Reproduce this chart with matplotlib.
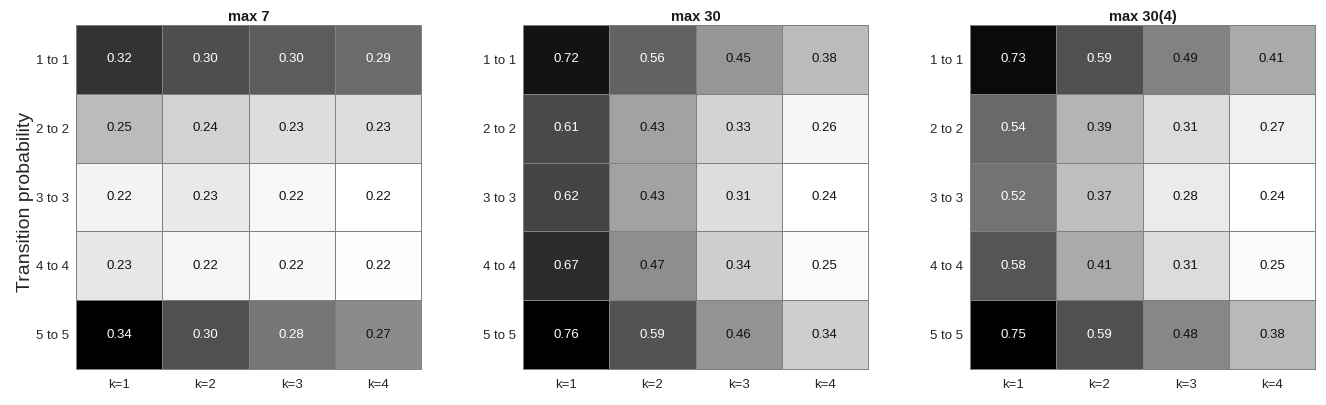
import numpy as np
import matplotlib
matplotlib.use("Agg")
import matplotlib.pyplot as plt
from matplotlib.colors import Normalize

plt.rcParams['font.family'] = ['Liberation Sans', 'DejaVu Sans']

titles = ["max 7", "max 30", "max 30(4)"]
row_labels = ["1 to 1", "2 to 2", "3 to 3", "4 to 4", "5 to 5"]
col_labels = ["k=1", "k=2", "k=3", "k=4"]

max7 = [[0.317, 0.304, 0.297, 0.290],
        [0.251, 0.240, 0.2345, 0.2345],
        [0.224, 0.229, 0.222, 0.218],
        [0.230, 0.223, 0.221, 0.219],
        [0.342, 0.303, 0.2845, 0.2745]]
max30 = [[0.72, 0.56, 0.454, 0.38],
         [0.61, 0.43, 0.33, 0.26],
         [0.62, 0.43, 0.31, 0.24],
         [0.67, 0.47, 0.34, 0.25],
         [0.76, 0.59, 0.46, 0.34]]
max30_4 = [[0.73, 0.59, 0.49, 0.41],
           [0.54, 0.39, 0.31, 0.27],
           [0.52, 0.37, 0.28, 0.24],
           [0.58, 0.41, 0.31, 0.25],
           [0.75, 0.59, 0.48, 0.38]]
panels = [max7, max30, max30_4]

W, H = 1326, 405
fig = plt.figure(figsize=(W / 100, H / 100), dpi=100)
lefts = [76, 523, 970]
top, bottom = 25, 369
aw = 345
edge = '#808080'
tick_color = '#262626'

for i, (data, title) in enumerate(zip(panels, titles)):
    arr = np.array(data)
    ax = fig.add_axes([lefts[i] / W, 1 - bottom / H, aw / W, (bottom - top) / H])
    norm = Normalize(vmin=arr.min(), vmax=arr.max())
    cmap = plt.get_cmap('gray_r')
    ax.pcolormesh(np.arange(arr.shape[1] + 1), np.arange(arr.shape[0] + 1), arr,
                  cmap=cmap, norm=norm, edgecolors=edge, linewidth=0.6)
    ax.set_xlim(0, arr.shape[1])
    ax.set_ylim(arr.shape[0], 0)
    for r in range(arr.shape[0]):
        for c in range(arr.shape[1]):
            lum = 1 - norm(arr[r, c])
            tc = 'white' if lum < 0.5 else '#111111'
            ax.text(c + 0.5, r + 0.5, f"{arr[r, c]:.2f}", ha='center', va='center',
                    fontsize=9.5, color=tc)
    ax.set_xticks(np.arange(arr.shape[1]) + 0.5)
    ax.set_xticklabels(col_labels)
    ax.set_yticks(np.arange(arr.shape[0]) + 0.5)
    ax.set_yticklabels(row_labels)
    ax.tick_params(length=0, labelsize=9.5, colors=tick_color)
    ax.tick_params(axis='y', pad=5)
    ax.tick_params(axis='x', pad=7)
    for s in ax.spines.values():
        s.set_color(edge)
        s.set_linewidth(0.7)
    ax.set_title(title, fontsize=10.5, fontweight='bold', color='#1a1a1a', pad=3)
    if i == 0:
        ax.set_ylabel("Transition probability", fontsize=14, color=tick_color)
        ax.yaxis.set_label_coords(-0.122, 0.485)

fig.savefig("out.png", dpi=100)
